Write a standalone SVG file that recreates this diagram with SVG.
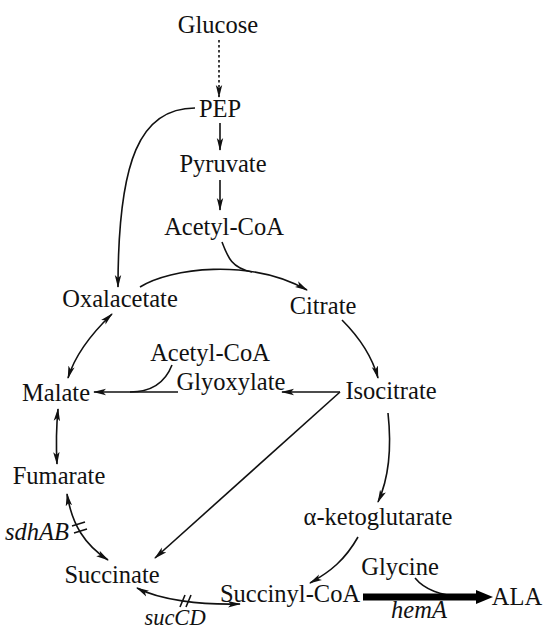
<svg xmlns="http://www.w3.org/2000/svg" width="544" height="631" viewBox="0 0 544 631">
<style>
text{font-family:"Liberation Serif","Times New Roman",serif;font-size:24.5px;fill:#111;text-anchor:middle}
.it{font-style:italic}
.c{fill:none;stroke:#111;stroke-width:1.6}
.ae{marker-end:url(#ah)}
.ab{marker-end:url(#ah);marker-start:url(#as)}
</style>
<defs>
<marker id="ah" markerWidth="13" markerHeight="8" refX="12" refY="4" orient="auto" markerUnits="userSpaceOnUse">
<path d="M0,0.8 L13,4 L0,7.2 L3,4 z" fill="#111"/>
</marker>
<marker id="as" markerWidth="13" markerHeight="8" refX="1" refY="4" orient="auto" markerUnits="userSpaceOnUse">
<path d="M13,0.8 L0,4 L13,7.2 L10,4 z" fill="#111"/>
</marker>
</defs>
<rect width="544" height="631" fill="#fff"/>
<g id="connectors">
<path class="c ae" d="M219,40 L219,97" stroke-dasharray="2.5,2.5"/>
<path class="c ae" d="M220,123 L220,150"/>
<path class="c ae" d="M220,180 L220,210"/>
<path class="c ae" d="M195,108 C140,108 118,160 118,287"/>
<path class="c" d="M222,242 C228,258 232,268 252,272"/>
<path class="c ae" d="M140,287 C170,268 250,258 307,290"/>
<path class="c ae" d="M342,320 C360,338 372,356 378,378"/>
<path class="c ae" d="M340,392 L282,392"/>
<path class="c ae" d="M340,392 L155,558"/>
<path class="c ae" d="M178,392 L94,392"/>
<path class="c" d="M172,365 C165,383 150,392 130,392"/>
<path class="c ab" d="M112,314 C90,335 75,355 68,378"/>
<path class="c ab" d="M58,409 C56,430 56,445 57,464"/>
<path class="c ab" d="M67,494 C72,525 85,545 108,560"/>
<path class="c" d="M72,526 L85,522 M74,533 L87,529"/>
<path class="c ab" d="M137,588 C160,600 200,605 240,604"/>
<path class="c" d="M180,607 L185,595 M186,607 L191,595"/>
<path class="c ae" d="M388,413 C392,450 388,480 378,502"/>
<path class="c ae" d="M358,537 C345,560 330,572 310,583"/>
<path class="c" d="M415,578 C425,590 440,595 462,597"/>
<path d="M363,597 L478,597" stroke="#000" stroke-width="7" fill="none"/>
<polygon points="476,590 493,597 476,604" fill="#000"/>
</g>
<g id="glucose"><text x="218" y="33">Glucose</text></g>
<g id="pep"><text x="220" y="117">PEP</text></g>
<g id="pyruvate"><text x="223" y="172">Pyruvate</text></g>
<g id="acetylcoa1"><text x="224" y="235">Acetyl-CoA</text></g>
<g id="oxalacetate"><text x="120" y="307">Oxalacetate</text></g>
<g id="citrate"><text x="323" y="314">Citrate</text></g>
<g id="acetylcoa2"><text x="210" y="361">Acetyl-CoA</text></g>
<g id="glyoxylate"><text x="231" y="390">Glyoxylate</text></g>
<g id="malate"><text x="56" y="401">Malate</text></g>
<g id="isocitrate"><text x="391" y="399">Isocitrate</text></g>
<g id="fumarate"><text x="59" y="484">Fumarate</text></g>
<g id="sdhab"><text class="it" x="37" y="540">sdhAB</text></g>
<g id="succinate"><text x="112" y="583">Succinate</text></g>
<g id="succd"><text class="it" x="175" y="625" style="font-size:22.5px">sucCD</text></g>
<g id="succinylcoa"><text x="290" y="602">Succinyl-CoA</text></g>
<g id="aketoglutarate"><text x="378" y="525">α-ketoglutarate</text></g>
<g id="glycine"><text x="400" y="575">Glycine</text></g>
<g id="ala"><text x="517" y="605">ALA</text></g>
<g id="hema"><text class="it" x="419" y="618">hemA</text></g>
</svg>
